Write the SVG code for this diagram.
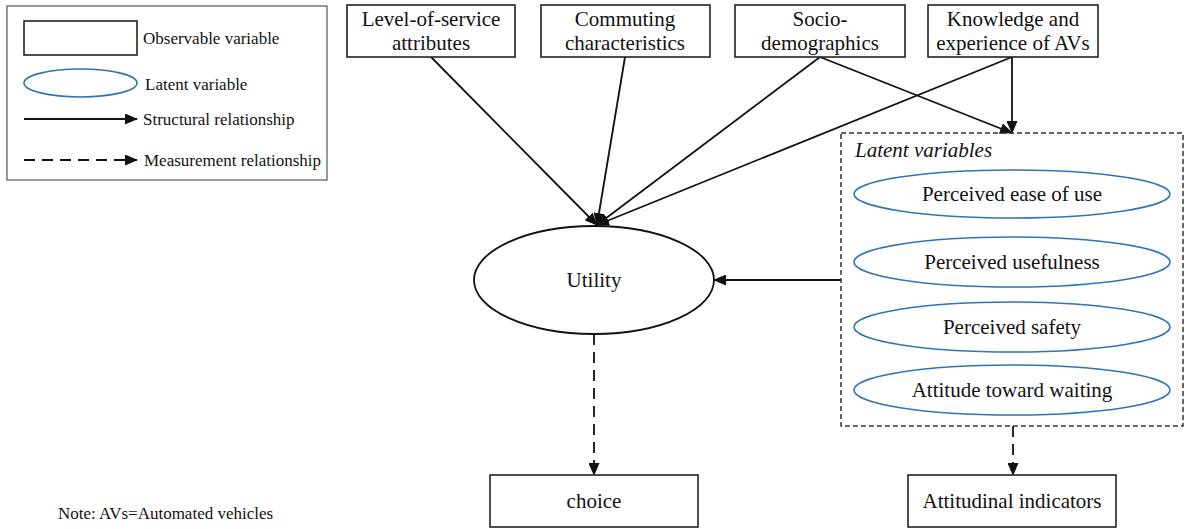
<svg xmlns="http://www.w3.org/2000/svg" width="1186" height="529" viewBox="0 0 1186 529">
<style>
text{font-family:"Liberation Serif","Times New Roman",serif;fill:#111}
.obs{fill:#fff;stroke:#222;stroke-width:1.6}
.lat{fill:#fff;stroke:#2E75B6;stroke-width:1.6}
.t18{font-size:21px}
.t15{font-size:17px}
.c{text-anchor:middle}
.s{stroke:#111;stroke-width:1.8;fill:none}
.d{stroke:#111;stroke-width:1.8;fill:none;stroke-dasharray:11 7}
</style>
<defs>
<marker id="ah" viewBox="0 0 13 11" refX="12" refY="5.5" markerWidth="13" markerHeight="11" markerUnits="userSpaceOnUse" orient="auto">
<path d="M0,0 L13,5.5 L0,11 Z" fill="#111"/>
</marker>
</defs>
<g id="legend">
<rect x="7" y="6" width="320" height="174" fill="#fff" stroke="#555" stroke-width="1.2"/>
<rect x="24" y="21" width="113" height="34" class="obs"/>
<text x="143" y="44" class="t15">Observable variable</text>
<ellipse cx="80.5" cy="83" rx="56.5" ry="14" class="lat"/>
<text x="145" y="90" class="t15">Latent variable</text>
<line x1="24" y1="119" x2="137" y2="119" class="s" marker-end="url(#ah)"/>
<text x="143" y="125" class="t15">Structural relationship</text>
<line x1="24" y1="160" x2="137" y2="160" class="d" marker-end="url(#ah)"/>
<text x="144" y="166" class="t15">Measurement relationship</text>
</g>
<g id="connectors">
<line x1="431" y1="57" x2="597" y2="225" class="s" marker-end="url(#ah)"/>
<line x1="625" y1="57" x2="597" y2="225" class="s" marker-end="url(#ah)"/>
<line x1="820" y1="57" x2="597" y2="225" class="s" marker-end="url(#ah)"/>
<line x1="1012" y1="57" x2="597" y2="225" class="s" marker-end="url(#ah)"/>
<line x1="820" y1="57" x2="1012" y2="133" class="s" marker-end="url(#ah)"/>
<line x1="1012" y1="57" x2="1012" y2="133" class="s" marker-end="url(#ah)"/>
<line x1="841" y1="280" x2="714" y2="280" class="s" marker-end="url(#ah)"/>
<line x1="594" y1="334" x2="594" y2="475" class="d" marker-end="url(#ah)"/>
<line x1="1013" y1="426" x2="1013" y2="475" class="d" marker-end="url(#ah)"/>
</g>
<g id="los">
<rect x="347" y="5" width="168" height="52" class="obs"/>
<text x="431" y="26" class="t18 c">Level-of-service</text>
<text x="431" y="50" class="t18 c">attributes</text>
</g>
<g id="commuting">
<rect x="541" y="5" width="169" height="52" class="obs"/>
<text x="625" y="26" class="t18 c">Commuting</text>
<text x="625" y="50" class="t18 c">characteristics</text>
</g>
<g id="socio">
<rect x="735" y="5" width="170" height="52" class="obs"/>
<text x="820" y="26" class="t18 c">Socio-</text>
<text x="820" y="50" class="t18 c">demographics</text>
</g>
<g id="knowledge">
<rect x="928" y="5" width="170" height="52" class="obs"/>
<text x="1013" y="26" class="t18 c">Knowledge and</text>
<text x="1013" y="50" class="t18 c">experience of AVs</text>
</g>
<g id="utility">
<ellipse cx="594" cy="280" rx="120" ry="54" fill="#fff" stroke="#111" stroke-width="1.8"/>
<text x="594" y="287" class="t18 c">Utility</text>
</g>
<g id="latent-group">
<rect x="841" y="133" width="342" height="293" fill="none" stroke="#333" stroke-width="1.5" stroke-dasharray="5 3"/>
<text x="855" y="157" class="t18" font-style="italic">Latent variables</text>
</g>
<g id="peou">
<ellipse cx="1012" cy="194" rx="158" ry="24" class="lat"/>
<text x="1012" y="201" class="t18 c">Perceived ease of use</text>
</g>
<g id="pu">
<ellipse cx="1012" cy="262" rx="158" ry="25" class="lat"/>
<text x="1012" y="269" class="t18 c">Perceived usefulness</text>
</g>
<g id="ps">
<ellipse cx="1012" cy="327" rx="158" ry="25" class="lat"/>
<text x="1012" y="334" class="t18 c">Perceived safety</text>
</g>
<g id="atw">
<ellipse cx="1012" cy="390" rx="158" ry="25" class="lat"/>
<text x="1012" y="397" class="t18 c">Attitude toward waiting</text>
</g>
<g id="choice">
<rect x="490" y="475" width="208" height="52" class="obs"/>
<text x="594" y="508" class="t18 c">choice</text>
</g>
<g id="indicators">
<rect x="908" y="475" width="208" height="52" class="obs"/>
<text x="1012" y="508" class="t18 c">Attitudinal indicators</text>
</g>
<text x="58" y="519" class="t15">Note: AVs=Automated vehicles</text>
</svg>
